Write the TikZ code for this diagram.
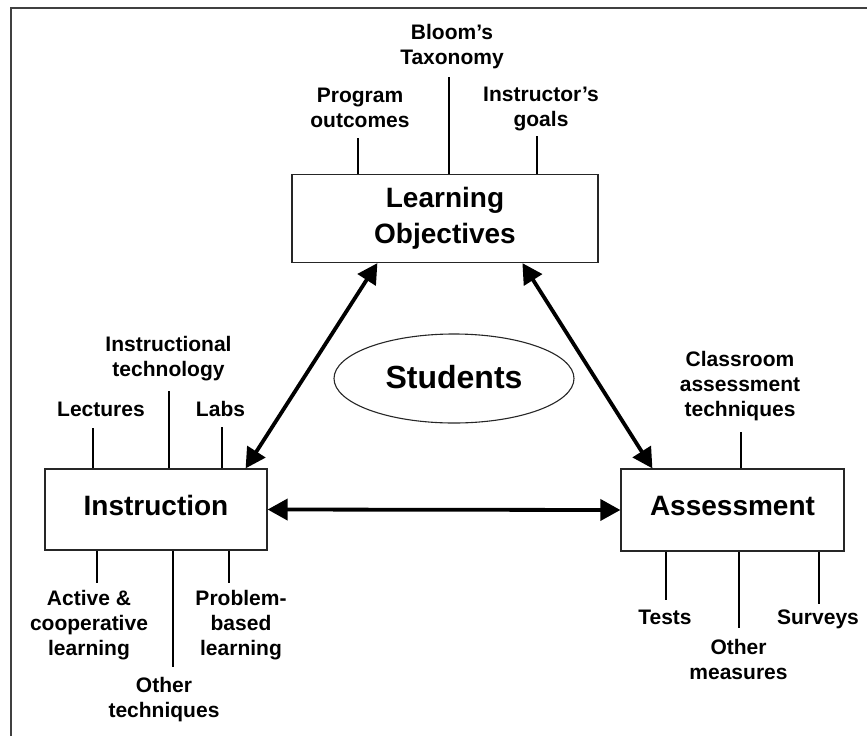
\documentclass[tikz,border=0pt]{standalone}
\usepackage{fontspec}
\setmainfont{Liberation Sans}
\usetikzlibrary{arrows.meta,shapes.geometric}
\begin{document}
\begin{tikzpicture}[x=1pt,y=-1pt,
  framestyle/.style={draw=black!75,line width=1.6pt},
  mainbox/.style={draw=black!85,line width=1.2pt,inner sep=0pt,
    font=\fontsize{28}{36}\selectfont\bfseries,align=center},
  lbl/.style={inner sep=0pt,font=\fontsize{21}{25}\selectfont\bfseries,align=center},
  spoke/.style={draw=black,line width=1.8pt},
  arr/.style={draw=black,line width=3.8pt,
    {Triangle[length=20pt,width=21pt]}-{Triangle[length=20pt,width=21pt]}}
]
\useasboundingbox (0,0) rectangle (867,736);
\draw[framestyle] (11,736) -- (11,8) -- (867,8);

% main boxes
\node[mainbox,minimum width=306pt,minimum height=88pt] (lo) at (445,218.5) {Learning\\Objectives};
\node[mainbox,minimum width=222pt,minimum height=81pt,text height=20pt,text depth=9pt] (instr) at (156,509.5) {Instruction};
\node[mainbox,minimum width=223pt,minimum height=82pt,text height=20pt,text depth=9pt] (asmt) at (732.5,510) {Assessment};
\node[ellipse,draw=black!85,line width=1.1pt,inner sep=0pt,minimum width=240pt,minimum height=89pt,
  font=\fontsize{32}{38}\selectfont\bfseries,text height=23pt,text depth=4pt] (stud) at (454,378.5) {Students};

% labels
\node[lbl,anchor=north] (bloom) at (452,24) {Bloom’s\\Taxonomy};
\node[lbl,anchor=north] (prog) at (360,88) {Program\\outcomes};
\node[lbl,anchor=north] (igoals) at (541,87) {Instructor’s\\goals};
\node[lbl,anchor=north] (itech) at (168.5,336) {Instructional\\technology};
\node[lbl,anchor=base] (lect) at (101,416) {Lectures};
\node[lbl,anchor=base] (labs) at (220.5,416) {Labs};
\node[lbl,anchor=north] (active) at (89,590) {Active \&\\cooperative\\learning};
\node[lbl,anchor=north] (pbl) at (241,590) {Problem-\\based\\learning};
\node[lbl,anchor=north] (othtech) at (164,677.5) {Other\\techniques};
\node[lbl,anchor=north] (cat) at (740,351.5) {Classroom\\assessment\\techniques};
\node[lbl,anchor=base] (tests) at (665,624) {Tests};
\node[lbl,anchor=base] (surv) at (818,624) {Surveys};
\node[lbl,anchor=north] (othmeas) at (738.5,639.5) {Other\\measures};

% spokes
\coordinate (s1) at (358,138);
\coordinate (s2) at (449,77);
\coordinate (s3) at (537,136);
\coordinate (s4) at (93,428);
\coordinate (s5) at (169,391);
\coordinate (s6) at (222,427);
\coordinate (s7) at (97,583);
\coordinate (s8) at (173,667);
\coordinate (s9) at (229,583);
\coordinate (s10) at (741,432);
\coordinate (s11) at (666,600);
\coordinate (s12) at (739,628);
\coordinate (s13) at (819,604);
\foreach \c in {s1,s2,s3} {\draw[spoke] (lo.north -| \c) -- (\c);}
\foreach \c in {s4,s5,s6} {\draw[spoke] (instr.north -| \c) -- (\c);}
\foreach \c in {s7,s8,s9} {\draw[spoke] (instr.south -| \c) -- (\c);}
\foreach \c in {s10} {\draw[spoke] (asmt.north -| \c) -- (\c);}
\foreach \c in {s11,s12,s13} {\draw[spoke] (asmt.south -| \c) -- (\c);}

% arrows
\draw[arr] ([xshift=86pt]lo.south west) -- ([xshift=-22pt]instr.north east);
\draw[arr] ([xshift=231pt]lo.south west) -- ([xshift=32pt]asmt.north west);
\draw[arr] (instr.east) -- (asmt.west);
\end{tikzpicture}
\end{document}
